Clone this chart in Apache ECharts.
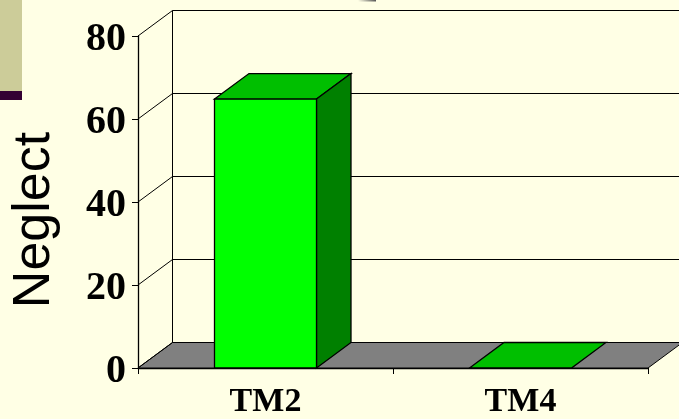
<!DOCTYPE html>
<html><head><meta charset="utf-8">
<style>html,body{margin:0;padding:0;background:#FFFFE5}#c{width:679px;height:419px}</style>
<script src="https://cdn.jsdelivr.net/npm/echarts@6/dist/echarts.min.js"></script>
</head><body><div id="c"></div>
<script>
var categories = ['TM2', 'TM4'];
var values = [64.8, 0];
var yTicks = [0, 20, 40, 60, 80];
var yTitle = 'Neglect';
var DX = 34.5, DY = -25.5;
var chart = echarts.init(document.getElementById('c'), null, {renderer: 'canvas'});
var LINE = '#000';
function poly(pts, fill, lw) {
  return {type: 'polygon', shape: {points: pts}, style: {fill: fill, stroke: LINE, lineWidth: lw || 1.3}};
}
function seg(x1, y1, x2, y2) {
  return {type: 'line', shape: {x1: x1, y1: y1, x2: x2, y2: y2}, style: {stroke: LINE, lineWidth: 1, fill: null}};
}
chart.setOption({
  animation: false,
  backgroundColor: '#FFFFE5',
  grid: {left: 138, right: 31, top: 36, bottom: 51, outerBoundsMode: 'none'},
  xAxis: {
    type: 'category', data: categories, boundaryGap: true,
    axisLine: {show: true, lineStyle: {color: '#000', width: 1.3}},
    axisTick: {show: true, length: 6, alignWithLabel: false, lineStyle: {color: '#000'}},
    axisLabel: {color: '#000', fontFamily: 'Liberation Serif', fontWeight: 'bold', fontSize: 34, margin: 17}
  },
  yAxis: {
    type: 'value', min: 0, max: 80, interval: 20,
    axisLine: {show: true, lineStyle: {color: '#000', width: 1.3}},
    axisTick: {show: true, length: 6, lineStyle: {color: '#000'}},
    splitLine: {show: false},
    axisLabel: {
      margin: 12,
      formatter: '{v|{value}}',
      rich: {v: {color: '#000', fontFamily: 'Liberation Serif', fontWeight: 'bold', fontSize: 40, padding: [8, 0, 0, 0]}}
    }
  },
  graphic: [
    {type: 'rect', shape: {x: 0, y: 0, width: 22, height: 91}, style: {fill: '#CCCC99'}, z: 0},
    {type: 'rect', shape: {x: 0, y: 91, width: 22, height: 9}, style: {fill: '#330033'}, z: 0},
    {type: 'rect', shape: {x: 358, y: 0, width: 18, height: 1.5},
     style: {fill: {type: 'linear', x: 0, y: 0, x2: 1, y2: 0, colorStops: [{offset: 0, color: '#FFFFE5'}, {offset: 1, color: '#555'}]}}, z: 0},
    {type: 'text', x: 35, y: 220, rotation: Math.PI / 2,
     style: {text: yTitle, fill: '#000', font: '52px "Liberation Sans"', align: 'center', verticalAlign: 'middle'}, z: 5}
  ],
  series: [
    {
      type: 'custom', coordinateSystem: 'cartesian2d', silent: true, z: 1, clip: false,
      data: yTicks.map(function (t) { return [0, t]; }),
      encode: {x: 0, y: 1},
      renderItem: function (params, api) {
        var p = api.coord([0, api.value(1)]);
        var band = api.size([1, 0])[0];
        var x0 = p[0] - band / 2, y = p[1];
        var right = x0 + band * 2;
        var kids = [
          seg(x0, y, x0 + DX, y + DY),
          seg(x0 + DX, y + DY, right + DX, y + DY)
        ];
        if (api.value(1) === 0) {
          kids.unshift(poly([[x0, y], [x0 + DX, y + DY], [right + DX, y + DY], [right, y]], '#808080', 1));
          var top = api.coord([0, yTicks[yTicks.length - 1]])[1];
          kids.push(seg(x0 + DX, y + DY, x0 + DX, top + DY));
        }
        return {type: 'group', children: kids};
      }
    },
    {
      type: 'custom', coordinateSystem: 'cartesian2d', silent: true, z: 2, clip: false,
      data: values.map(function (v, i) { return [i, v]; }),
      encode: {x: 0, y: 1},
      renderItem: function (params, api) {
        var i = api.value(0), v = api.value(1);
        var top = api.coord([i, v]), base = api.coord([i, 0]);
        var w = api.size([1, 0])[0] * 0.4;
        var l = top[0] - w / 2, r = top[0] + w / 2, t = top[1], b = base[1];
        var kids = [
          poly([[l, t], [l + DX, t + DY], [r + DX, t + DY], [r, t]], '#00BF00')
        ];
        if (b - t > 0.5) {
          kids.push(poly([[r, t], [r + DX, t + DY], [r + DX, b + DY], [r, b]], '#008000'));
          kids.push(poly([[l, t], [r, t], [r, b], [l, b]], '#00FF00'));
        }
        return {type: 'group', children: kids};
      }
    }
  ]
});
</script></body></html>
